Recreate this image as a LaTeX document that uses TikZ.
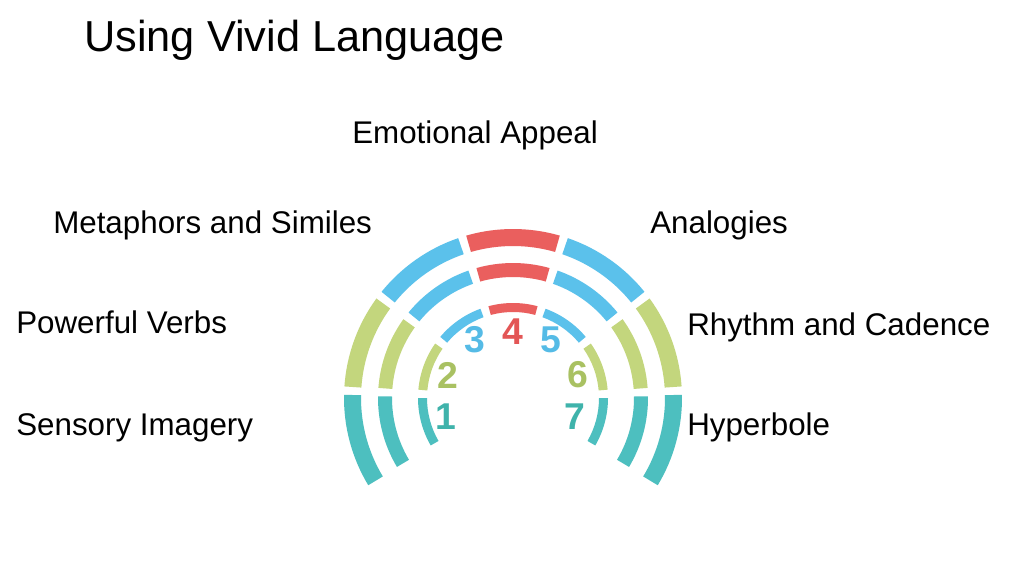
\documentclass[tikz,border=0pt]{standalone}
\usepackage{fontspec}
\setmainfont{Liberation Sans}
\definecolor{cred}{HTML}{EA5F5E}
\definecolor{cblue}{HTML}{5BC1EB}
\definecolor{cgreen}{HTML}{C3D67D}
\definecolor{cteal}{HTML}{4DBFBF}
\definecolor{nteal}{HTML}{3FB3AB}
\definecolor{ngreen}{HTML}{A9C162}
\definecolor{nred}{HTML}{E35656}
\definecolor{nblue}{HTML}{55BBE6}
\begin{document}
\begin{tikzpicture}[x=0.75pt,y=0.75pt,
 lbl/.style={anchor=base west, inner sep=0pt, font=\fontsize{23.5}{28}\selectfont},
 ttl/.style={anchor=base west, inner sep=0pt, font=\fontsize{32.5}{38}\selectfont},
 num/.style={inner sep=0pt, font=\fontsize{28}{32}\selectfont\bfseries}]
\useasboundingbox (0,0) rectangle (1024,576);
\fill[white] (0,0) rectangle (1024,576);
\coordinate (C) at (513,178);
\foreach \k/\col in {1/cteal,2/cgreen,3/cblue,4/cred,5/cblue,6/cgreen,7/cteal}{
  \foreach \ri/\ro in {152/169,121/135,86/95}{
    \pgfmathsetmacro{\am}{212.5-35*(\k-0.5)}
    \pgfmathsetmacro{\ha}{17.5-4/((\ri+\ro)/2)*180/pi}
    \pgfmathsetmacro{\aa}{\am-\ha}
    \pgfmathsetmacro{\ab}{\am+\ha}
    \fill[\col] ([shift={(\aa:\ro)}]C) arc[start angle=\aa, end angle=\ab, radius=\ro]
      -- ([shift={(\ab:\ri)}]C) arc[start angle=\ab, end angle=\aa, radius=\ri] -- cycle;
  }
}
\node[num, text=nteal]  (n1) at (446,159) {1};
\node[num, text=ngreen] (n2) at (448,201) {2};
\node[num, text=nblue]  (n3) at (475,236) {3};
\node[num, text=nred]   (n4) at (513,244) {4};
\node[num, text=nblue]  (n5) at (551,236) {5};
\node[num, text=ngreen] (n6) at (578,201) {6};
\node[num, text=nteal]  (n7) at (575,159) {7};

\node[ttl] (title) at (84,524) {Using Vivid Language};
\node[lbl] (l4) at (352,432) {Emotional Appeal};
\node[lbl] (l3) at (53,343) {Metaphors and Similes};
\node[lbl] (l5) at (650,343) {Analogies};
\node[lbl] (l2) at (16,243) {Powerful Verbs};
\node[lbl] (l6) at (687,241) {Rhythm and Cadence};
\node[lbl] (l1) at (16,141) {Sensory Imagery};
\node[lbl] (l7) at (687,141) {Hyperbole};
\end{tikzpicture}
\end{document}
